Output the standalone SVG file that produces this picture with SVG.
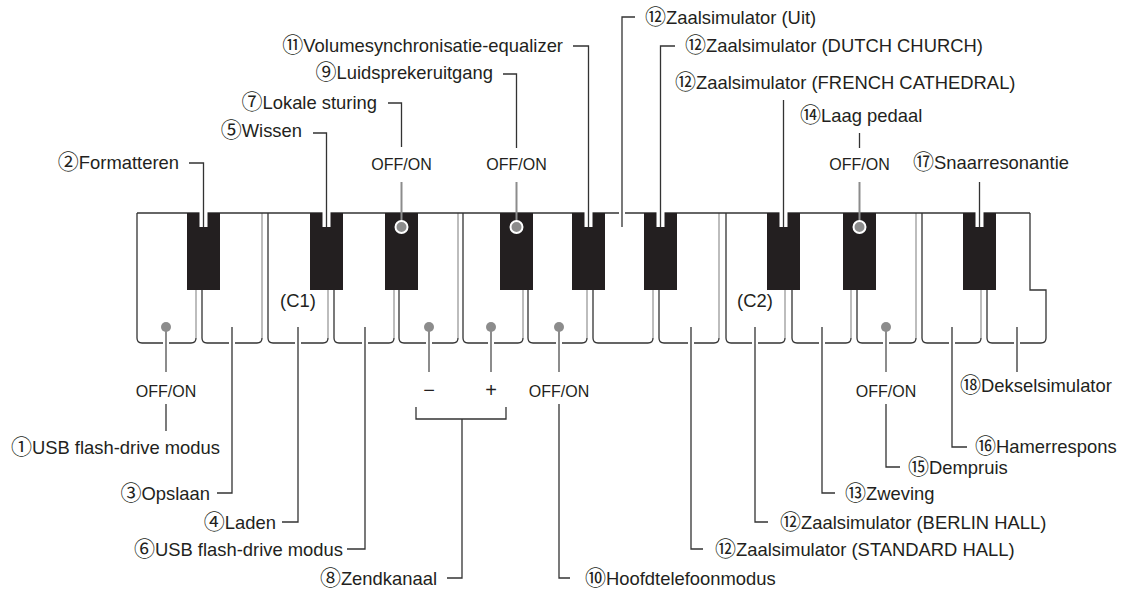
<svg xmlns="http://www.w3.org/2000/svg" width="1121" height="601" viewBox="0 0 1121 601">
<style>
.t{font-family:"Liberation Sans","Noto Sans CJK JP",sans-serif;font-size:18.4px;fill:#231f20}
.n{font-family:"Noto Sans CJK JP",sans-serif;font-size:21px}
.o{font-family:"Liberation Sans",sans-serif;font-size:16px;fill:#231f20;text-anchor:middle}
.c{text-anchor:middle}
.e{text-anchor:end}
.d{stroke:#333;stroke-width:1.3;fill:none}
.g{stroke:#8c8c8c;stroke-width:2;fill:none}
.h{stroke:#fff;stroke-width:6;fill:none}
.bk{fill:#231f20}
.wk{stroke:#333;stroke-width:1.3;fill:none}
.wr{stroke:#9a9a9a;stroke-width:1.3;fill:none}
.dot{fill:#8c8c8c}
.cir{fill:#8c8c8c;stroke:#fff;stroke-width:2}
.notch{fill:#fff}
</style>
<rect width="1121" height="601" fill="#fff"/>
<g id="keyboard">
<rect x="137" y="213" width="893" height="130" fill="#fff"/>
<rect x="987" y="290" width="59" height="53" fill="#fff"/>
<g id="white-keys">
<path class="wk" d="M137,213V338Q137,343 142,343H191Q196,343 196,338"/><path class="wr" d="M196,213V338"/>
<path class="wk" d="M202,213V338Q202,343 207,343H257Q262,343 262,338"/><path class="wr" d="M262,213V338"/>
<path class="wk" d="M268,213V338Q268,343 273,343H323Q328,343 328,338"/><path class="wr" d="M328,213V338"/>
<path class="wk" d="M334,213V338Q334,343 339,343H389Q394,343 394,338"/><path class="wr" d="M394,213V338"/>
<path class="wk" d="M399,213V338Q399,343 404,343H453Q458,343 458,338"/><path class="wr" d="M458,213V338"/>
<path class="wk" d="M463,213V338Q463,343 468,343H518Q523,343 523,338"/><path class="wr" d="M523,213V338"/>
<path class="wk" d="M528,213V338Q528,343 533,343H582Q587,343 587,338"/><path class="wr" d="M587,213V338"/>
<path class="wk" d="M593,213V338Q593,343 598,343H648Q653,343 653,338"/><path class="wr" d="M653,213V338"/>
<path class="wk" d="M659,213V338Q659,343 664,343H714Q719,343 719,338"/><path class="wr" d="M719,213V338"/>
<path class="wk" d="M726,213V338Q726,343 731,343H780Q785,343 785,338"/><path class="wr" d="M785,213V338"/>
<path class="wk" d="M792,213V338Q792,343 797,343H846Q851,343 851,338"/><path class="wr" d="M851,213V338"/>
<path class="wk" d="M857,213V338Q857,343 862,343H911Q916,343 916,338"/><path class="wr" d="M916,213V338"/>
<path class="wk" d="M922,213V338Q922,343 927,343H976Q981,343 981,338"/><path class="wr" d="M981,213V338"/>
<path class="wk" d="M987,213V338Q987,343 992,343H1041Q1046,343 1046,338V290H1030V213"/>
<path class="wk" d="M137,213H1030"/>
</g>
<g id="black-keys">
<rect class="bk" x="187" y="213" width="33" height="77"/>
<rect class="bk" x="310" y="213" width="33" height="77"/>
<rect class="bk" x="385" y="213" width="33" height="77"/>
<rect class="bk" x="500" y="213" width="33" height="77"/>
<rect class="bk" x="572" y="213" width="33" height="77"/>
<rect class="bk" x="644" y="213" width="33" height="77"/>
<rect class="bk" x="767" y="213" width="33" height="77"/>
<rect class="bk" x="843" y="213" width="33" height="77"/>
<rect class="bk" x="963" y="213" width="33" height="77"/>
</g>
<text class="t c" x="298" y="307">(C1)</text>
<text class="t c" x="755" y="307">(C2)</text>
</g>
<g id="connectors">
<g id="notches">
<rect class="notch" x="199.5" y="212" width="8" height="15"/>
<rect class="notch" x="322.5" y="212" width="8" height="15"/>
<rect class="notch" x="584.5" y="212" width="8" height="15"/>
<rect class="notch" x="656.5" y="212" width="8" height="15"/>
<rect class="notch" x="779.5" y="212" width="8" height="15"/>
<rect class="notch" x="975.5" y="212" width="8" height="15"/>
</g>
<g id="halos">
<path class="h" d="M622,209V217"/>
<path class="h" d="M166,339V347M232,339V347M298,339V347M365,339V347M429,339V347M491,339V347M559,339V347M691,339V347M755,339V347M822,339V347M886,339V347M952,339V347M1017,339V347"/>
</g>
<path class="d" d="M189,163H203.5V227"/>
<path class="d" d="M313,133H326.5V227"/>
<path class="d" d="M388,103H401.5V147"/>
<path class="g" d="M401.5,182V227"/>
<path class="d" d="M503,74H516.5V148"/>
<path class="g" d="M516.5,182V227"/>
<path class="d" d="M573,46H588.5V227"/>
<path class="d" d="M635,17H622V227"/>
<path class="d" d="M675,46H660.5V227"/>
<path class="d" d="M783.5,100V227"/>
<path class="d" d="M859.5,133V148"/>
<path class="g" d="M859.5,182V227"/>
<path class="d" d="M979.5,182V227"/>
<circle class="cir" cx="401.5" cy="227" r="6"/>
<circle class="cir" cx="516.5" cy="227" r="6"/>
<circle class="cir" cx="859.5" cy="227" r="6"/>
<path class="g" d="M166,327V372"/>
<path class="d" d="M166,404V431"/>
<path class="d" d="M232,327V493H217"/>
<path class="d" d="M298,327V522H282"/>
<path class="d" d="M365,327V549H347"/>
<path class="g" d="M429,327V372"/>
<path class="g" d="M491,327V372"/>
<path class="d" d="M416,407V419H506V407"/>
<path class="d" d="M462,419V578H447"/>
<path class="g" d="M559,327V372"/>
<path class="d" d="M559,404V578H570"/>
<path class="d" d="M691,327V549H703"/>
<path class="d" d="M755,327V522H768"/>
<path class="d" d="M822,327V493H835"/>
<path class="g" d="M886,327V372"/>
<path class="d" d="M886,404V467H900"/>
<path class="d" d="M952,327V447H967"/>
<path class="d" d="M1017,327V372"/>
<circle class="dot" cx="166" cy="327" r="5"/>
<circle class="dot" cx="429" cy="327" r="5"/>
<circle class="dot" cx="491" cy="327" r="5"/>
<circle class="dot" cx="559" cy="327" r="5"/>
<circle class="dot" cx="886" cy="327" r="5"/>
</g>
<g id="n2"><text class="t e" x="179" y="168.5"><tspan class="n">②</tspan>Formatteren</text></g>
<g id="n5"><text class="t e" x="302" y="136.5"><tspan class="n">⑤</tspan>Wissen</text></g>
<g id="n7"><text class="t e" x="377" y="108.5"><tspan class="n">⑦</tspan>Lokale sturing</text><text class="o" x="401.5" y="170">OFF/ON</text></g>
<g id="n9"><text class="t e" x="493" y="78.5"><tspan class="n">⑨</tspan>Luidsprekeruitgang</text><text class="o" x="516.5" y="170">OFF/ON</text></g>
<g id="n11"><text class="t e" x="563" y="51.5"><tspan class="n">⑪</tspan>Volumesynchronisatie-equalizer</text></g>
<g id="n12uit"><text class="t" x="645" y="23.5"><tspan class="n">⑫</tspan>Zaalsimulator (Uit)</text></g>
<g id="n12dutch"><text class="t" x="685" y="52"><tspan class="n">⑫</tspan>Zaalsimulator (DUTCH CHURCH)</text></g>
<g id="n12french"><text class="t" x="675" y="88.5"><tspan class="n">⑫</tspan>Zaalsimulator (FRENCH CATHEDRAL)</text></g>
<g id="n14"><text class="t" x="800" y="121.5"><tspan class="n">⑭</tspan>Laag pedaal</text><text class="o" x="859.5" y="170">OFF/ON</text></g>
<g id="n17"><text class="t" x="913" y="168.5"><tspan class="n">⑰</tspan>Snaarresonantie</text></g>
<g id="n1"><text class="o" x="166" y="396.5">OFF/ON</text><text class="t e" x="220" y="453.5"><tspan class="n">①</tspan>USB flash-drive modus</text></g>
<g id="n3"><text class="t e" x="210" y="499.5"><tspan class="n">③</tspan>Opslaan</text></g>
<g id="n4"><text class="t e" x="276" y="528.5"><tspan class="n">④</tspan>Laden</text></g>
<g id="n6"><text class="t e" x="343" y="555.5"><tspan class="n">⑥</tspan>USB flash-drive modus</text></g>
<g id="n8"><text class="t c" x="429" y="397" style="font-size:20px">−</text><text class="t c" x="491" y="397" style="font-size:20px">+</text><text class="t e" x="437" y="584.5"><tspan class="n">⑧</tspan>Zendkanaal</text></g>
<g id="n10"><text class="o" x="559" y="396.5">OFF/ON</text><text class="t" x="585" y="584.5"><tspan class="n">⑩</tspan>Hoofdtelefoonmodus</text></g>
<g id="n12standard"><text class="t" x="715" y="555.5"><tspan class="n">⑫</tspan>Zaalsimulator (STANDARD HALL)</text></g>
<g id="n12berlin"><text class="t" x="780" y="528.5"><tspan class="n">⑫</tspan>Zaalsimulator (BERLIN HALL)</text></g>
<g id="n13"><text class="t" x="845" y="499.5"><tspan class="n">⑬</tspan>Zweving</text></g>
<g id="n15"><text class="o" x="886" y="396.5">OFF/ON</text><text class="t" x="908" y="473.5"><tspan class="n">⑮</tspan>Dempruis</text></g>
<g id="n16"><text class="t" x="975" y="453"><tspan class="n">⑯</tspan>Hamerrespons</text></g>
<g id="n18"><text class="t" x="960" y="392"><tspan class="n">⑱</tspan>Dekselsimulator</text></g>
</svg>
